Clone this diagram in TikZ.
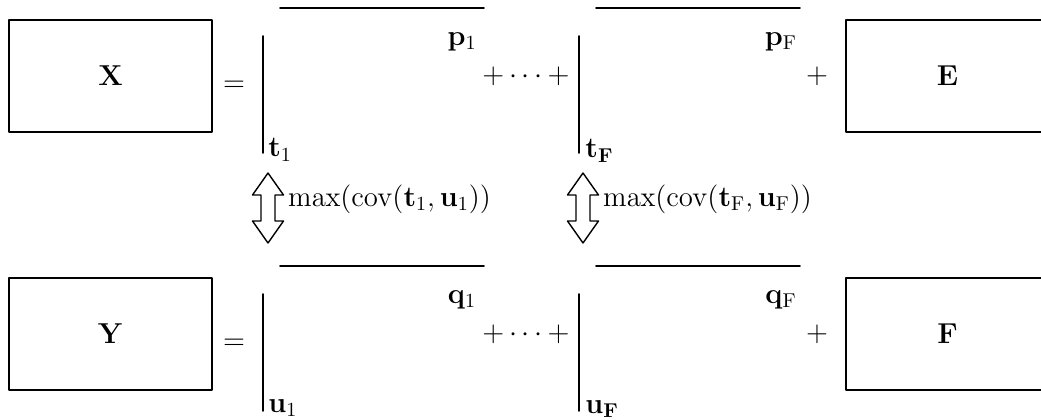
\documentclass[tikz,border=0pt]{standalone}
\usepackage{amsmath}
\usetikzlibrary{positioning}
\begin{document}
\begin{tikzpicture}[x=0.5pt, y=-0.5pt, line cap=round, line join=round, font=\fontsize{14}{17}\selectfont]
    \tikzset{
      matbox/.style={draw, line width=0.9pt, minimum width=101.5pt, minimum height=56pt, inner sep=0pt},
      bar/.style={line width=0.9pt},
      updown/.pic={\draw[line width=0.7pt] (0,-35) -- (15.5,-13) -- (7,-13) -- (7,13) -- (15.5,13) -- (0,35)
        -- (-15.5,13) -- (-7,13) -- (-7,-13) -- (-15.5,-13) -- cycle;}
    }
    \useasboundingbox (0,0) rectangle (1041,419);
    \clip (0,0) rectangle (1041,419);
    % one row for X, one for Y
    \foreach \r/\M/\N/\v/\w in {0/X/E/t/p, 258/Y/F/u/q} {
      \node[matbox] (\M) at (110.5,76+\r) {$\mathbf{\M}$};
      \node (eq\M) at (234,86+\r) {$=$};
      \draw[bar] (263,36+\r) -- (263,153+\r);
      \draw[bar] (280,8+\r) -- (484,8+\r);
      \node (\w1) at (462,42+\r) {$\mathbf{\w}_1$};
      \node[anchor=west, inner sep=0pt] (\v1) at (268,150+\r) {$\mathbf{\v}_1$};
      \node (dots\M) at (526,76+\r) {$+\cdots+$};
      \draw[bar] (579,36+\r) -- (579,153+\r);
      \draw[bar] (596,8+\r) -- (800,8+\r);
      \node (\w-F) at (781,42+\r) {$\mathbf{\w}_\mathrm{F}$};
      \node[anchor=west, inner sep=0pt] (\v-F) at (585,151+\r) {$\mathbf{\v}_\mathbf{F}$};
      \node (plus\M) at (817,76+\r) {$+$};
      \node[matbox] (\N) at (947.5,76+\r) {$\mathbf{\N}$};
    }
    \pic (link1) at (268,208) {updown};
    \node[anchor=west] (cov1) at (281,199) {$\max(\operatorname{cov}(\mathbf{t}_1,\mathbf{u}_1))$};
    \pic (linkF) at (583,208) {updown};
    \node[anchor=west] (covF) at (596,199) {$\max(\operatorname{cov}(\mathbf{t}_\mathrm{F},\mathbf{u}_\mathrm{F}))$};
  \end{tikzpicture}
\end{document}
